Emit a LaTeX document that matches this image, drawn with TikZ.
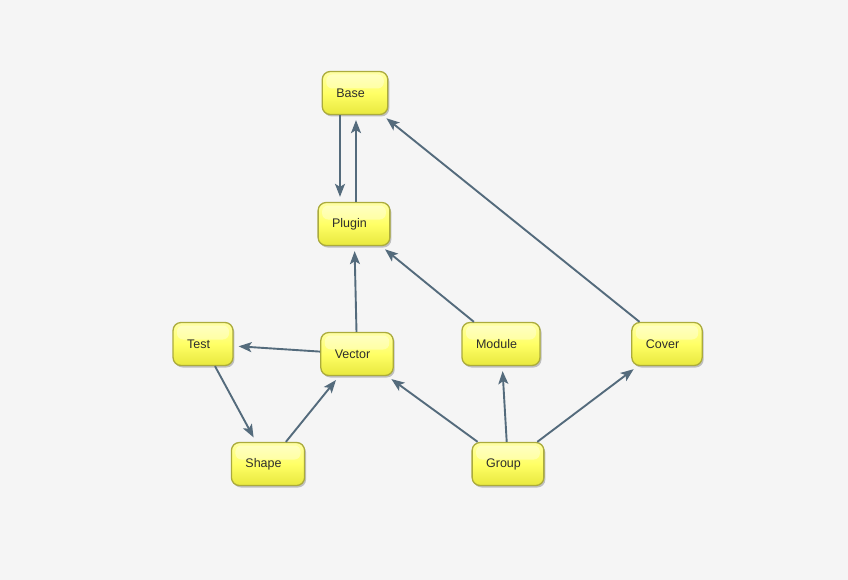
\documentclass[tikz,border=0pt]{standalone}
\usepackage{fontspec}
\setmainfont{Liberation Sans}
\usetikzlibrary{arrows.meta,shadows}
\definecolor{bgc}{HTML}{F5F5F5}
\definecolor{edgec}{HTML}{546B7C}
\definecolor{boxtop}{HTML}{FFFFA6}
\definecolor{boxmid}{HTML}{FFFF66}
\definecolor{boxbot}{HTML}{E8E83E}
\definecolor{boxline}{HTML}{ABAB3C}
\definecolor{txtc}{HTML}{2E2E2E}
\tikzset{
  box/.style={rectangle, rounded corners=8pt, draw=boxline, line width=1.3pt,
    top color=boxtop, bottom color=boxbot, middle color=boxmid,
    minimum height=43pt, inner xsep=14pt, inner ysep=0pt,
    font=\fontsize{12.5pt}{14pt}\selectfont, text=txtc,
    drop shadow={shadow xshift=1.5pt, shadow yshift=-2pt, opacity=0.22, fill=black},
    path picture={\fill[white,opacity=0.35,rounded corners=6pt]
      ([xshift=4pt,yshift=-3pt]path picture bounding box.north west) rectangle
      ([xshift=-4pt,yshift=-17pt]path picture bounding box.north east);}},
  conn/.style={draw=edgec, line width=1.9pt, shorten >=5pt,
    -{Stealth[length=13pt,width=10pt,inset=3pt]}}
}
\newcommand{\lbl}[1]{#1\hspace{9pt}\mbox{}}
\begin{document}
\begin{tikzpicture}[x=1pt,y=-1pt]
\fill[bgc] (0,0) rectangle (848,580);
\useasboundingbox (0,0) rectangle (848,580);
\node[box] (base)   at (355,93)  {\lbl{Base}};
\node[box] (plugin) at (354,224) {\lbl{Plugin}};
\node[box] (test)   at (203,344) {\lbl{Test}};
\node[box] (vector) at (357,354) {\lbl{Vector}};
\node[box] (module) at (501,344) {\lbl{Module}};
\node[box] (cover)  at (667,344) {\lbl{Cover}};
\node[box] (shape)  at (268,464) {\lbl{Shape}};
\node[box] (group)  at (508,464) {\lbl{Group}};
\draw[conn] ([xshift=-15pt]base.south) -- ([xshift=-14pt]plugin.north);
\draw[conn] ([xshift=2pt]plugin.north) -- ([xshift=1pt]base.south);
\draw[conn] (cover) -- (base);
\draw[conn] (module) -- (plugin);
\draw[conn] (vector) -- (plugin);
\draw[conn] (vector) -- (test);
\draw[conn] (test) -- (shape);
\draw[conn] (shape) -- (vector);
\draw[conn] (group) -- (vector);
\draw[conn] (group) -- (module);
\draw[conn] (group) -- (cover);
\end{tikzpicture}
\end{document}
